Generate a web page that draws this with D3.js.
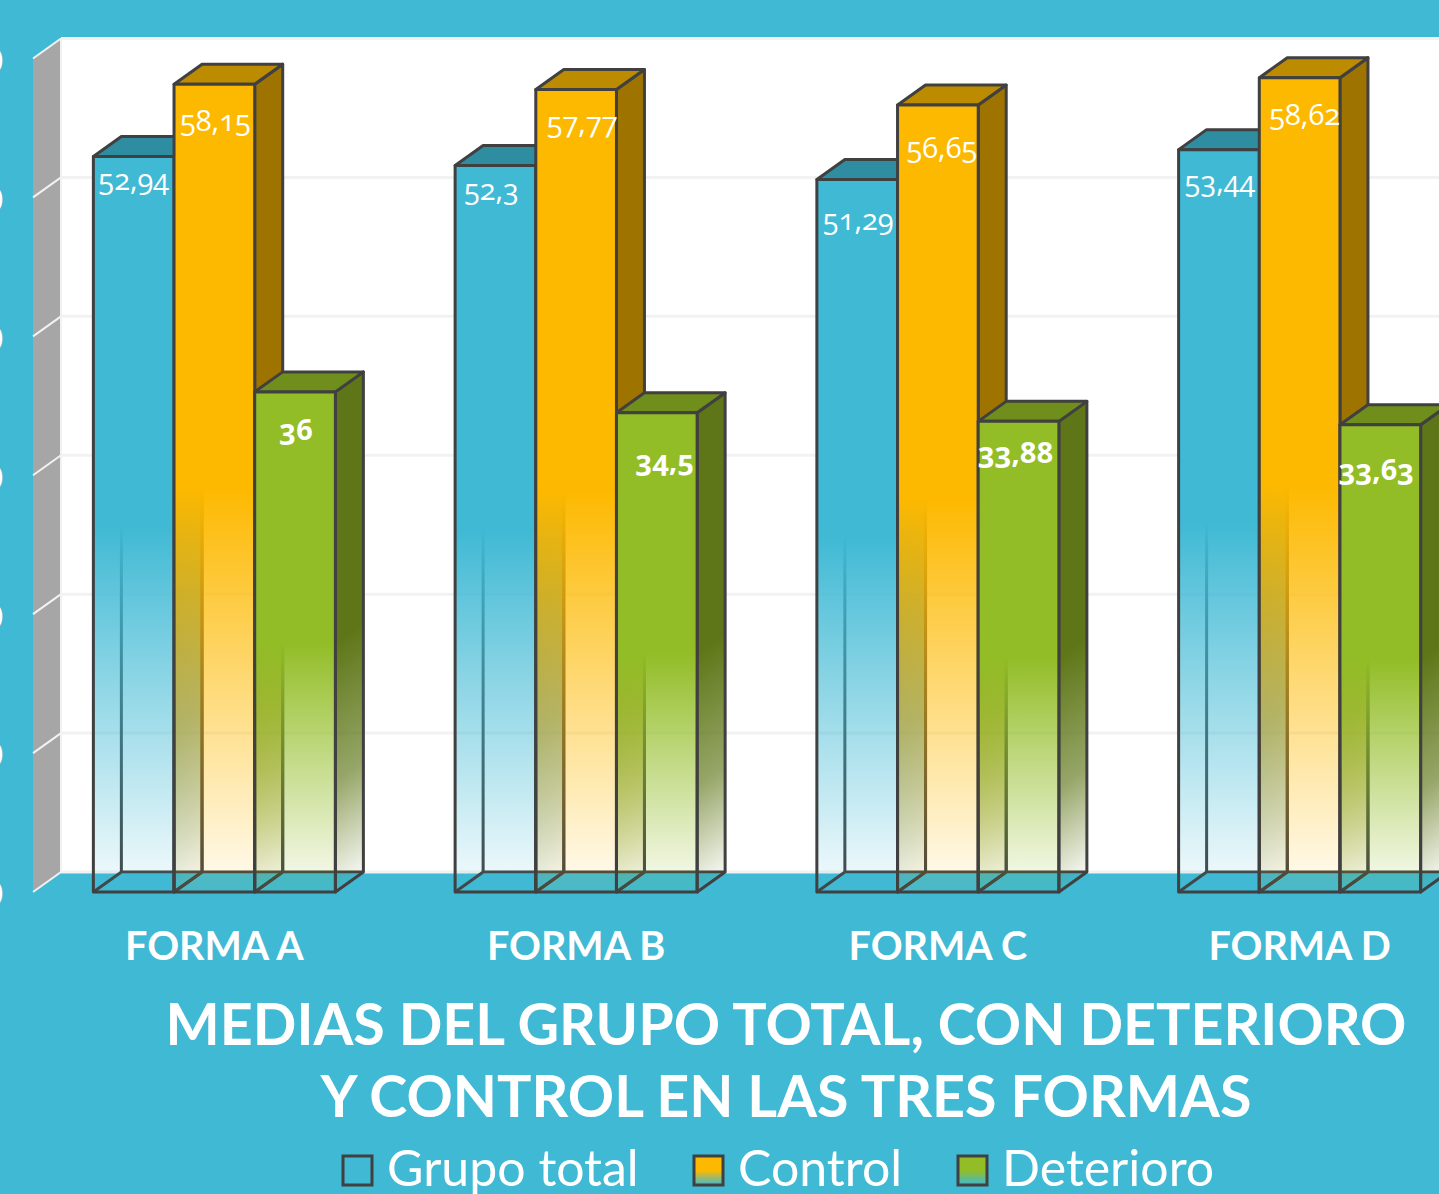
<!DOCTYPE html>
<html>
<head>
<meta charset="utf-8">
<script src="https://cdn.jsdelivr.net/npm/d3@7"></script>
<style>
    html, body { margin: 0; padding: 0; background: #3fb9d4; overflow: hidden; }
    svg { display: block; }
    text { font-family: "Lato", "Open Sans", sans-serif; fill: #fff; }
    .value { font-family: "Open Sans", sans-serif; font-variant-numeric: oldstyle-nums; font-feature-settings: "onum" 1; }
</style>
</head>
<body>
<svg id="drawing_region"></svg>
<script>
const categories = ["FORMA A", "FORMA B", "FORMA C", "FORMA D"];
const series = ["Grupo total", "Control", "Deterioro"];
const grupoTotal = [52.94, 52.3, 51.29, 53.44];
const control = [58.15, 57.77, 56.65, 58.62];
const deterioro = [36, 34.5, 33.88, 33.63];
const yTicks = [0, 10, 20, 30, 40, 50, 60];
const titleLines = ["MEDIAS DEL GRUPO TOTAL, CON DETERIORO", "Y CONTROL EN LAS TRES FORMAS"];

// hand placed data labels in the original, offset from the top of each bar
const labelNudge = [
    [[0, 33], [1, 47], [1, 48]],
    [[-4, 35], [6, 44], [8, 58]],
    [[1, 51], [4, 53], [-3, 42]],
    [[1, 42], [5, 47], [-4, 55]]
];

const values = [grupoTotal, control, deterioro];
const colors = {
    bg: "#3fb9d4",
    stroke: "#404040",
    wall: "#a6a6a6",
    grid: "#f2f2f2",
    front: ["#3fb9d4", "#fdb900", "#92bd26"],
    top: ["#2f8da2", "#bc8b00", "#6f8e1c"],
    side: ["#2c8497", "#9e7300", "#5e7617"]
};

const width = 1439, height = 1194;
const depth = { x: 28, y: -20 };

const svg = d3.select("#drawing_region").attr("width", width).attr("height", height);
svg.append("rect").attr("width", width).attr("height", height).attr("fill", colors.bg);

const yscale = d3.scaleLinear().domain([0, 60]).range([892, 58.5]);
const xscale = d3.scaleBand().domain(categories).range([33.5, 1480.5]).paddingInner(0.331).paddingOuter(0.1655);
const barscale = d3.scaleBand().domain(series).range([0, xscale.bandwidth()]);

const bx = yscale(0), backBase = bx + depth.y;
const wallX = 61, wallFrontX = wallX - depth.x;

// gradients: solid on the upper half, fading out to the floor
const defs = svg.append("defs");
series.forEach((s, i) => {
    const g = defs.append("linearGradient").attr("id", "front" + i)
        .attr("x1", 0).attr("y1", 0).attr("x2", 0).attr("y2", 1);
    g.append("stop").attr("offset", 0.5).attr("stop-color", colors.front[i]).attr("stop-opacity", 1);
    g.append("stop").attr("offset", 1).attr("stop-color", colors.front[i]).attr("stop-opacity", 0.05);

    const l = defs.append("linearGradient").attr("id", "legend" + i)
        .attr("x1", 0).attr("y1", 0).attr("x2", 0).attr("y2", 1);
    l.append("stop").attr("offset", 0.5).attr("stop-color", colors.front[i]);
    l.append("stop").attr("offset", 1).attr("stop-color", colors.bg);
});

// the side face fades along its own slant, so one gradient per bar
function addSideGradient(id, color, x, top) {
    const h = bx - top;
    const g = defs.append("linearGradient").attr("id", id)
        .attr("gradientUnits", "userSpaceOnUse")
        .attr("x1", x).attr("y1", top)
        .attr("x2", x + 0.473 * h).attr("y2", top + 0.663 * h);
    g.append("stop").attr("offset", 0.5).attr("stop-color", color).attr("stop-opacity", 1);
    g.append("stop").attr("offset", 0.78).attr("stop-color", color).attr("stop-opacity", 0.65);
    g.append("stop").attr("offset", 1).attr("stop-color", color).attr("stop-opacity", 0.05);
}

// plot background and wall
svg.append("rect")
    .attr("x", wallX).attr("y", yscale(60) + depth.y)
    .attr("width", width - wallX).attr("height", backBase - yscale(60) - depth.y)
    .attr("fill", "#fff");

const line = d3.line();
svg.append("path")
    .attr("d", line([[wallFrontX, yscale(60)], [wallX, yscale(60) + depth.y], [wallX, backBase], [wallFrontX, bx]]) + "Z")
    .attr("fill", colors.wall);
svg.append("line")
    .attr("x1", wallX).attr("x2", wallX)
    .attr("y1", yscale(60) + depth.y).attr("y2", backBase)
    .attr("stroke", colors.grid).attr("stroke-width", 2);

const gridG = svg.append("g");
yTicks.forEach(t => {
    gridG.append("line")
        .attr("x1", wallX).attr("x2", width)
        .attr("y1", yscale(t) + depth.y).attr("y2", yscale(t) + depth.y)
        .attr("stroke", colors.grid).attr("stroke-width", 3);
    gridG.append("line")
        .attr("x1", wallFrontX).attr("x2", wallX)
        .attr("y1", yscale(t)).attr("y2", yscale(t) + depth.y)
        .attr("stroke", colors.grid).attr("stroke-width", 2);
});

// y axis, cut by the left edge of the picture in the original
const yaxis = d3.axisLeft(yscale).tickValues(yTicks).tickSize(0).tickPadding(0);
const yaxisG = svg.append("g").attr("transform", "translate(3, 3)").call(yaxis);
yaxisG.select(".domain").remove();
yaxisG.selectAll("text").attr("font-size", 34).attr("font-weight", 700)
    .style("font-family", "Lato").attr("fill", "#fff");

// bars, left to right so the later ones cover the sides of the earlier ones
const barsG = svg.append("g")
    .attr("stroke", colors.stroke).attr("stroke-width", 3).attr("stroke-linejoin", "round");
categories.forEach((c, ci) => {
    series.forEach((s, si) => {
        const x0 = xscale(c) + barscale(s), x1 = x0 + barscale.bandwidth();
        const top = yscale(values[si][ci]);
        const dx = depth.x, dy = depth.y;
        const g = barsG.append("g");
        const sideId = `side${ci}_${si}`;
        addSideGradient(sideId, colors.side[si], x1, top);
        // inner edges seen through the faded part
        g.append("path").attr("fill", "none")
            .attr("d", line([[x0, bx], [x0 + dx, bx + dy], [x1 + dx, bx + dy]]) + line([[x0 + dx, bx + dy], [x0 + dx, top + dy]]));
        // side
        g.append("path").attr("fill", `url(#${sideId})`)
            .attr("d", line([[x1, top], [x1 + dx, top + dy], [x1 + dx, bx + dy], [x1, bx]]) + "Z");
        // top
        g.append("path").attr("fill", colors.top[si])
            .attr("d", line([[x0, top], [x0 + dx, top + dy], [x1 + dx, top + dy], [x1, top]]) + "Z");
        // front
        g.append("rect").attr("fill", `url(#front${si})`)
            .attr("x", x0).attr("y", top).attr("width", x1 - x0).attr("height", bx - top);
    });
});

// data labels
categories.forEach((c, ci) => {
    series.forEach((s, si) => {
        const x0 = xscale(c) + barscale(s);
        const nudge = labelNudge[ci][si];
        svg.append("text").attr("class", "value")
            .attr("x", x0 + barscale.bandwidth() / 2 + nudge[0])
            .attr("y", yscale(values[si][ci]) + nudge[1])
            .attr("text-anchor", "middle")
            .attr("font-size", 29)
            .attr("font-weight", si == 2 ? 700 : 400)
            .text(String(values[si][ci]).replace(".", ","));
    });
});

// category labels
categories.forEach(c => {
    svg.append("text")
        .attr("x", xscale(c) + xscale.bandwidth() / 2)
        .attr("y", 960)
        .attr("text-anchor", "middle")
        .attr("font-size", 39.5)
        .attr("font-weight", 700)
        .text(c);
});

// title
titleLines.forEach((t, i) => {
    svg.append("text")
        .attr("x", 786).attr("y", 1045 + i * 72)
        .attr("text-anchor", "middle")
        .attr("font-size", 57.4)
        .attr("font-weight", 700)
        .text(t);
});

// legend
const legendX = d3.scaleOrdinal().domain(series).range([343, 694, 958]);
series.forEach((s, i) => {
    svg.append("rect")
        .attr("x", legendX(s)).attr("y", 1156).attr("width", 29).attr("height", 29)
        .attr("fill", i == 0 ? "none" : `url(#legend${i})`)
        .attr("stroke", colors.stroke).attr("stroke-width", 3);
    svg.append("text")
        .attr("x", legendX(s) + 44).attr("y", 1186)
        .attr("font-size", 50)
        .text(s);
});
</script>
</body>
</html>
